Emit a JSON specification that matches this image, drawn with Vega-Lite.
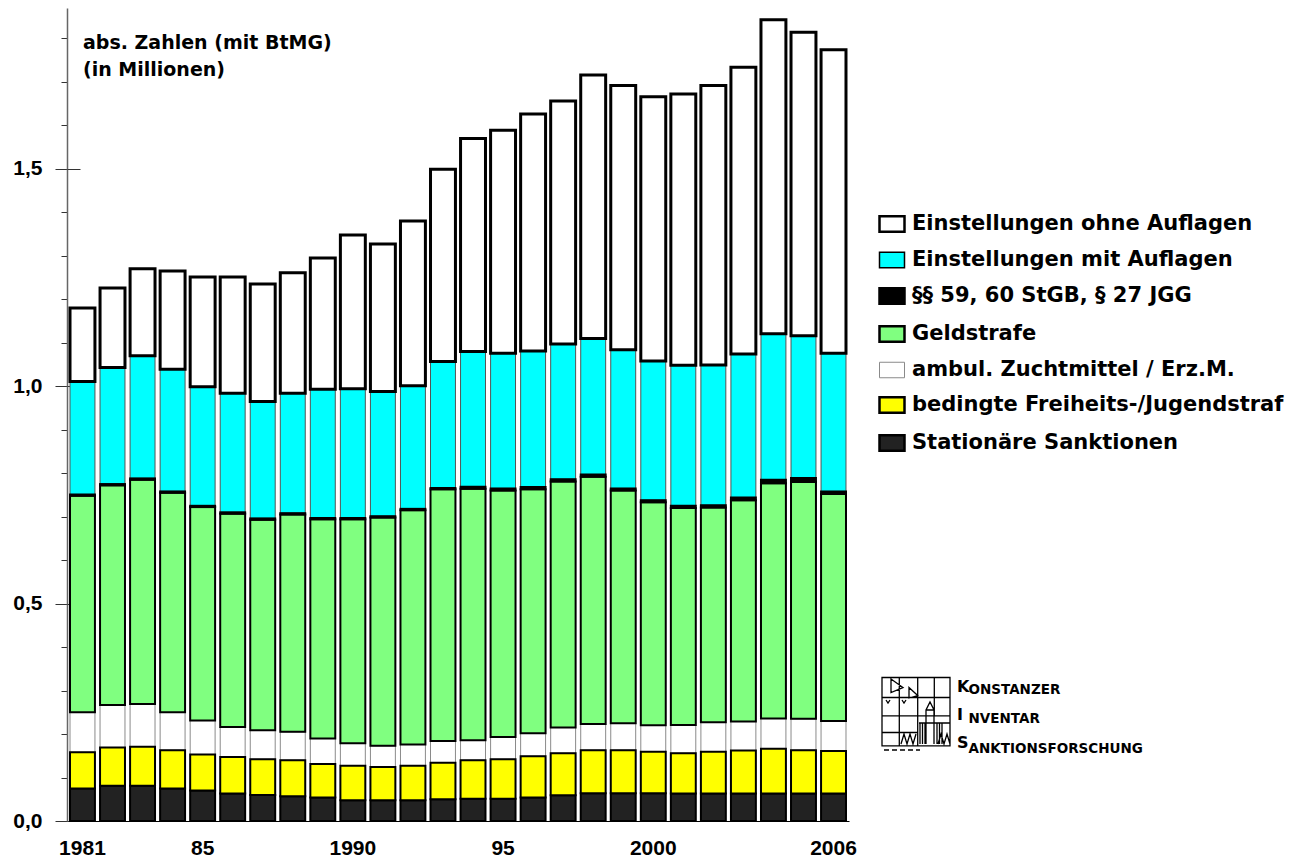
{
  "$schema": "https://vega.github.io/schema/vega-lite/v6.json",
  "width": 782,
  "height": 813,
  "autosize": "none",
  "padding": {"left": 67, "top": 8, "right": 450, "bottom": 41},
  "background": "white",
  "config": {"view": {"stroke": null}},
  "title": {
    "text": ["abs. Zahlen (mit BtMG)", "(in Millionen)"],
    "anchor": "start", "frame": "group", "orient": "top",
    "offset": 0, "dx": 16, "dy": 72,
    "font": "DejaVu Sans", "fontSize": 19, "fontWeight": "bold", "color": "black", "lineHeight": 27
  },
  "resolve": {"scale": {"color": "independent"}, "axis": {"y": "independent"}},
  "layer": [
    {
      "data": {"values": [
        {"year": 1981, "g_stat": 0.075, "f_bed": 0.083, "e_amb": 0.092, "d_geld": 0.498, "c_para": 0.003, "b_mit": 0.260, "a_ohne": 0.169},
        {"year": 1982, "g_stat": 0.081, "f_bed": 0.088, "e_amb": 0.098, "d_geld": 0.505, "c_para": 0.003, "b_mit": 0.268, "a_ohne": 0.183},
        {"year": 1983, "g_stat": 0.081, "f_bed": 0.090, "e_amb": 0.098, "d_geld": 0.516, "c_para": 0.003, "b_mit": 0.282, "a_ohne": 0.200},
        {"year": 1984, "g_stat": 0.075, "f_bed": 0.088, "e_amb": 0.087, "d_geld": 0.505, "c_para": 0.003, "b_mit": 0.281, "a_ohne": 0.226},
        {"year": 1985, "g_stat": 0.070, "f_bed": 0.083, "e_amb": 0.078, "d_geld": 0.491, "c_para": 0.003, "b_mit": 0.274, "a_ohne": 0.252},
        {"year": 1986, "g_stat": 0.063, "f_bed": 0.084, "e_amb": 0.069, "d_geld": 0.491, "c_para": 0.003, "b_mit": 0.274, "a_ohne": 0.267},
        {"year": 1987, "g_stat": 0.060, "f_bed": 0.082, "e_amb": 0.067, "d_geld": 0.484, "c_para": 0.003, "b_mit": 0.269, "a_ohne": 0.270},
        {"year": 1988, "g_stat": 0.057, "f_bed": 0.083, "e_amb": 0.065, "d_geld": 0.500, "c_para": 0.003, "b_mit": 0.276, "a_ohne": 0.277},
        {"year": 1989, "g_stat": 0.054, "f_bed": 0.077, "e_amb": 0.059, "d_geld": 0.504, "c_para": 0.003, "b_mit": 0.296, "a_ohne": 0.302},
        {"year": 1990, "g_stat": 0.048, "f_bed": 0.079, "e_amb": 0.052, "d_geld": 0.515, "c_para": 0.003, "b_mit": 0.297, "a_ohne": 0.354},
        {"year": 1991, "g_stat": 0.048, "f_bed": 0.076, "e_amb": 0.049, "d_geld": 0.525, "c_para": 0.003, "b_mit": 0.287, "a_ohne": 0.339},
        {"year": 1992, "g_stat": 0.048, "f_bed": 0.079, "e_amb": 0.049, "d_geld": 0.539, "c_para": 0.003, "b_mit": 0.283, "a_ohne": 0.379},
        {"year": 1993, "g_stat": 0.050, "f_bed": 0.084, "e_amb": 0.050, "d_geld": 0.579, "c_para": 0.003, "b_mit": 0.291, "a_ohne": 0.442},
        {"year": 1994, "g_stat": 0.051, "f_bed": 0.089, "e_amb": 0.046, "d_geld": 0.578, "c_para": 0.005, "b_mit": 0.311, "a_ohne": 0.490},
        {"year": 1995, "g_stat": 0.051, "f_bed": 0.091, "e_amb": 0.051, "d_geld": 0.567, "c_para": 0.005, "b_mit": 0.311, "a_ohne": 0.513},
        {"year": 1996, "g_stat": 0.054, "f_bed": 0.095, "e_amb": 0.053, "d_geld": 0.561, "c_para": 0.005, "b_mit": 0.313, "a_ohne": 0.545},
        {"year": 1997, "g_stat": 0.059, "f_bed": 0.097, "e_amb": 0.059, "d_geld": 0.566, "c_para": 0.005, "b_mit": 0.311, "a_ohne": 0.559},
        {"year": 1998, "g_stat": 0.064, "f_bed": 0.099, "e_amb": 0.060, "d_geld": 0.569, "c_para": 0.005, "b_mit": 0.313, "a_ohne": 0.606},
        {"year": 1999, "g_stat": 0.064, "f_bed": 0.099, "e_amb": 0.062, "d_geld": 0.535, "c_para": 0.005, "b_mit": 0.319, "a_ohne": 0.608},
        {"year": 2000, "g_stat": 0.064, "f_bed": 0.095, "e_amb": 0.061, "d_geld": 0.513, "c_para": 0.005, "b_mit": 0.320, "a_ohne": 0.608},
        {"year": 2001, "g_stat": 0.063, "f_bed": 0.093, "e_amb": 0.065, "d_geld": 0.499, "c_para": 0.005, "b_mit": 0.323, "a_ohne": 0.624},
        {"year": 2002, "g_stat": 0.063, "f_bed": 0.096, "e_amb": 0.068, "d_geld": 0.494, "c_para": 0.005, "b_mit": 0.323, "a_ohne": 0.643},
        {"year": 2003, "g_stat": 0.063, "f_bed": 0.099, "e_amb": 0.067, "d_geld": 0.509, "c_para": 0.006, "b_mit": 0.330, "a_ohne": 0.660},
        {"year": 2004, "g_stat": 0.063, "f_bed": 0.103, "e_amb": 0.070, "d_geld": 0.541, "c_para": 0.008, "b_mit": 0.336, "a_ohne": 0.722},
        {"year": 2005, "g_stat": 0.063, "f_bed": 0.100, "e_amb": 0.072, "d_geld": 0.545, "c_para": 0.009, "b_mit": 0.327, "a_ohne": 0.698},
        {"year": 2006, "g_stat": 0.063, "f_bed": 0.098, "e_amb": 0.069, "d_geld": 0.522, "c_para": 0.006, "b_mit": 0.318, "a_ohne": 0.698}
      ]},
      "transform": [{"fold": ["e_amb", "b_mit", "g_stat", "f_bed", "d_geld", "c_para", "a_ohne"], "as": ["cat", "val"]}],
      "mark": {"type": "bar"},
      "encoding": {
        "x": {
          "field": "year", "type": "ordinal",
          "scale": {"paddingInner": 0.17, "paddingOuter": 0.1},
          "axis": {
            "title": null, "ticks": false, "domain": true, "domainColor": "black", "domainWidth": 1,
            "labelAngle": 0, "labelOverlap": false, "labelPadding": 16,
            "labelFont": "Liberation Sans", "labelFontWeight": "bold", "labelFontSize": 21, "labelColor": "black",
            "labelExpr": "datum.label == '1985' ? '85' : datum.label == '1995' ? '95' : (datum.label == '1981' || datum.label == '1990' || datum.label == '2000' || datum.label == '2006') ? datum.label : ''"
          }
        },
        "y": {
          "field": "val", "type": "quantitative", "stack": "zero",
          "scale": {"domain": [0, 1.87], "nice": false, "zero": true},
          "axis": {
            "title": null, "grid": false,
            "values": [0, 0.1, 0.2, 0.3, 0.4, 0.5, 0.6, 0.7, 0.8, 0.9, 1.0, 1.1, 1.2, 1.3, 1.4, 1.5, 1.6, 1.7, 1.8],
            "domainColor": "#666666", "domainWidth": 1.5,
            "tickColor": "#333333", "tickWidth": 1,
            "tickSize": {"condition": {"test": "datum.value % 0.5 === 0", "value": 12}, "value": 6},
            "labelPadding": 13,
            "labelFont": "Liberation Sans", "labelFontWeight": "bold", "labelFontSize": 21, "labelColor": "black",
            "labelExpr": "datum.value % 0.5 === 0 ? replace(format(datum.value, '.1f'), '.', ',') : ''"
          }
        },
        "color": {
          "field": "cat", "type": "nominal",
          "scale": {
            "domain": ["a_ohne", "b_mit", "c_para", "d_geld", "e_amb", "f_bed", "g_stat"],
            "range": ["#ffffff", "#00ffff", "#000000", "#80ff80", "#ffffff", "#ffff00", "#222222"]
          },
          "legend": {
            "orient": "none", "legendX": 814.5, "legendY": 205.5, "title": null, "padding": 0,
            "symbolType": "M-1,-0.62H1V0.62H-1Z", "symbolSize": 625,
            "rowPadding": 11, "labelOffset": 9.5,
            "labelFont": "DejaVu Sans", "labelFontWeight": "bold", "labelFontSize": 21, "labelColor": "black", "labelLimit": 600,
            "symbolStrokeColor": "black", "symbolStrokeWidth": 2.5, "symbolOpacity": 1,
            "labelExpr": "datum.label == 'a_ohne' ? 'Einstellungen ohne Auflagen' : datum.label == 'b_mit' ? 'Einstellungen mit Auflagen' : datum.label == 'c_para' ? '§§ 59, 60 StGB, § 27 JGG' : datum.label == 'd_geld' ? 'Geldstrafe' : datum.label == 'e_amb' ? 'ambul. Zuchtmittel / Erz.M.' : datum.label == 'f_bed' ? 'bedingte Freiheits-/Jugendstraf' : 'Stationäre Sanktionen'",
            "encode": {"symbols": {"update": {
              "stroke": {"signal": "datum.value == 'e_amb' ? '#8a8a8a' : 'black'"},
              "strokeWidth": {"signal": "datum.value == 'e_amb' ? 1 : datum.value == 'b_mit' ? 1.5 : 2.5"}
            }}}
          }
        },
        "order": {"field": "cat", "sort": "descending"},
        "stroke": {"condition": [
          {"test": "datum.cat === 'e_amb'", "value": "#8a8a8a"},
          {"test": "datum.cat === 'b_mit'", "value": "#555555"}
        ], "value": "black"},
        "strokeWidth": {"condition": [
          {"test": "datum.cat === 'a_ohne'", "value": 3},
          {"test": "datum.cat === 'e_amb' || datum.cat === 'b_mit'", "value": 1}
        ], "value": 2}
      }
    },
    {
      "data": {"values": [{"ic": "icon"}]},
      "mark": {"type": "point", "opacity": 0, "filled": false},
      "encoding": {
        "x": {"datum": 1981, "type": "ordinal"},
        "y": {"datum": 0, "type": "quantitative", "axis": {
          "values": [0, 0.5, 1.0, 1.5], "tickSize": -13, "labels": false, "domain": false,
          "tickColor": "#333333", "tickWidth": 1, "grid": false, "title": null, "orient": "left"
        }},
        "color": {"field": "ic", "type": "nominal",
          "scale": {"domain": ["icon"], "range": ["black"]},
          "legend": {
            "orient": "none", "legendX": 847, "legendY": 705, "title": null, "padding": 0,
            "symbolType": "M-34,-37.5H34V30.8H-34Z M-16.7,-37.5V30.8 M1.7,-37.5V30.8 M18.3,-37.5V0.8 M-34,-17.5H34 M-34,0.8H34 M-34,17.5H1.7 M-25,-36L-13,-27.5L-25,-22.5Z M-7,-27.5L1.7,-19.5L-7,-17Z M-30,-15L-28,-12L-26,-15 M-14,-15L-12,-12L-10,-15 M10,29V-5L14,-13L18,-5V29 M10,-5H18 M3,8H34 M4,8V29 M6.5,8V29 M9,8V29 M21,8V29 M23.5,8V29 M26,8V29 M-15,29L-12,19L-9,29L-6,19L-3,29L0,19 M22,29L25,19L28,29L31,19L34,29 M-32,35H-27 M-24,35H-19 M-16,35H-11 M-8,35H-3 M0,35H4",
            "symbolSize": 4, "symbolFillColor": "transparent", "symbolStrokeColor": "black", "symbolStrokeWidth": 1.3,
            "symbolOpacity": 1, "labelExpr": "''", "labelFontSize": 1
          }
        }
      }
    },
    {
      "data": {"values": [{"k": "K"}, {"k": "I"}, {"k": "S"}]},
      "mark": {"type": "point", "opacity": 0},
      "encoding": {
        "x": {"datum": 1981, "type": "ordinal"},
        "y": {"datum": 0, "type": "quantitative", "axis": null},
        "color": {"field": "k", "type": "nominal",
          "scale": {"domain": ["K", "I", "S"], "range": ["black", "black", "black"]},
          "legend": {
            "orient": "none", "legendX": 874, "legendY": 671, "title": null, "padding": 0,
            "symbolSize": 1, "symbolOpacity": 0, "labelOffset": 0, "rowPadding": 12,
            "labelFont": "DejaVu Sans", "labelFontWeight": "bold", "labelFontSize": 16, "labelColor": "black"
          }
        }
      }
    },
    {
      "data": {"values": [{"s": "ONSTANZER"}, {"s": "NVENTAR"}, {"s": "ANKTIONSFORSCHUNG"}]},
      "mark": {"type": "point", "opacity": 0},
      "encoding": {
        "x": {"datum": 1981, "type": "ordinal"},
        "y": {"datum": 0, "type": "quantitative", "axis": null},
        "color": {"field": "s", "type": "nominal",
          "scale": {"domain": ["ONSTANZER", "NVENTAR", "ANKTIONSFORSCHUNG"], "range": ["black", "black", "black"]},
          "legend": {
            "orient": "none", "legendX": 888, "legendY": 675, "title": null, "padding": 0,
            "symbolSize": 1, "symbolOpacity": 0, "labelOffset": 0, "rowPadding": 14.5,
            "labelFont": "DejaVu Sans", "labelFontWeight": "bold", "labelFontSize": 13.5, "labelColor": "black", "labelLimit": 400
          }
        }
      }
    }
  ]
}
